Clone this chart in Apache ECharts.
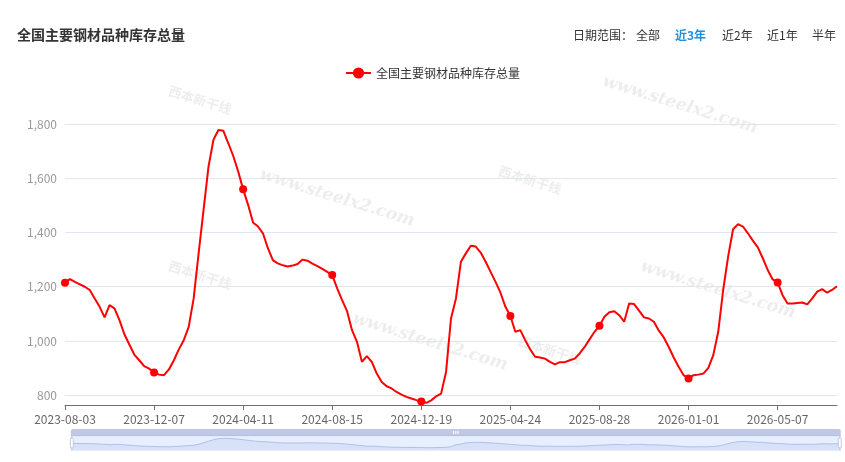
<!DOCTYPE html>
<html><head><meta charset="utf-8">
<script src="https://cdn.jsdelivr.net/npm/echarts@6/dist/echarts.min.js"></script>
<style>html,body{margin:0;padding:0;background:#fff}#c{width:845px;height:462px}</style>
</head><body><div id="c"></div>
<script>
var startDate = '2023-08-03';
var weekCount = 157;
var seriesName = '全国主要钢材品种库存总量';
var values = [
1215,1228,1218,1209,1200,1188,1157,1126,1087,1132,
1120,1077,1025,987,950,929,907,898,884,876,
874,895,929,969,1003,1052,1157,1323,1483,1643,
1742,1778,1775,1729,1682,1625,1559,1502,1437,1422,
1397,1342,1298,1286,1279,1275,1278,1284,1300,1296,
1285,1276,1266,1255,1243,1194,1151,1110,1040,997,
923,944,923,880,849,833,825,812,802,794,
788,782,777,772,781,796,806,886,1083,1157,
1292,1323,1351,1348,1326,1292,1255,1218,1178,1126,
1092,1034,1040,1003,969,942,939,935,923,914,
922,922,929,935,954,978,1006,1034,1056,1089,
1106,1110,1095,1071,1138,1136,1112,1087,1083,1071,
1038,1013,978,939,905,874,862,874,876,880,
901,948,1034,1188,1311,1412,1431,1422,1397,1370,
1345,1305,1262,1227,1216,1169,1138,1138,1140,1142,
1135,1157,1182,1191,1178,1188,1202
];
var rangeTitle = '日期范围：';
var rangeLabels = ['全部','近3年','近2年','近1年','半年'];

var dates = [];
(function(){
  var d = new Date(startDate + 'T00:00:00Z');
  for (var i = 0; i < weekCount; i++) {
    var t = new Date(d.getTime() + i * 7 * 86400000);
    dates.push(t.toISOString().slice(0,10));
  }
})();

var chart = echarts.init(document.getElementById('c'));
var FONT = '"Noto Sans CJK SC","Noto Sans",sans-serif';
var rangeX = [636, 675, 722, 767, 812];
var graphics = [
  {type:'text', x:573, y:35, style:{text:rangeTitle, fill:'#333', font:'12px ' + FONT, verticalAlign:'middle'}}
];
rangeLabels.forEach(function(t, i){
  graphics.push({type:'text', x:rangeX[i], y:35, style:{
    text:t, fill: i === 1 ? '#1e8fe1' : '#333', verticalAlign:'middle',
    font:(i === 1 ? 'bold ' : '') + '12px ' + FONT}});
});
var wm = [[680,105],[337,198],[430,342],[718,290]];
wm.forEach(function(p){
  graphics.push({type:'text', x:p[0], y:p[1], rotation:-0.3, z:-10, style:{
    text:'www.steelx2.com', fill:'rgba(190,190,190,0.28)',
    font:'italic bold 17px "DejaVu Serif",serif', align:'center', verticalAlign:'middle'}});
});
var wl = [[200,100],[530,180],[200,275],[550,350]];
wl.forEach(function(p){
  graphics.push({type:'text', x:p[0], y:p[1], rotation:-0.3, z:-10, style:{
    text:'西本新干线', fill:'rgba(190,190,190,0.28)',
    font:'bold 13px ' + FONT, align:'center', verticalAlign:'middle'}});
});

chart.setOption({
  backgroundColor:'#fff',
  animation:false,
  textStyle:{fontFamily:FONT},
  title:{text:seriesName, left:12, top:23, textStyle:{fontSize:14, fontWeight:'bold', color:'#333', fontFamily:FONT}},
  legend:{top:62, left:340, itemWidth:25, itemHeight:14, itemGap:10,
    textStyle:{fontSize:12, color:'#333', fontFamily:FONT},
    data:[seriesName]},
  grid:{left:65, right:8, top:124, bottom:57, containLabel:false},
  xAxis:{type:'category', data:dates, boundaryGap:false,
    axisLine:{lineStyle:{color:'#6e7079'}},
    axisTick:{alignWithLabel:true, interval:17},
    axisLabel:{interval:17, color:'#666', fontSize:12, margin:8, fontFamily:FONT}},
  yAxis:{type:'value', min:764, max:1800,
    axisLine:{show:false}, axisTick:{show:false},
    axisLabel:{color:'#999', fontSize:12, showMinLabel:false, fontFamily:FONT},
    splitLine:{lineStyle:{color:'#e0e6f1'}}},
  dataZoom:[{type:'slider', start:0, end:100, left:68, right:7, bottom:18, height:15,
    labelPrecision:0, showDetail:false}],
  graphic:graphics,
  series:[{name:seriesName, type:'line', data:values,
    symbol:'circle', symbolSize:8, showSymbol:true,
    itemStyle:{color:'#ff0000'},
    lineStyle:{color:'#ff0000', width:2}}]
});
</script></body></html>
